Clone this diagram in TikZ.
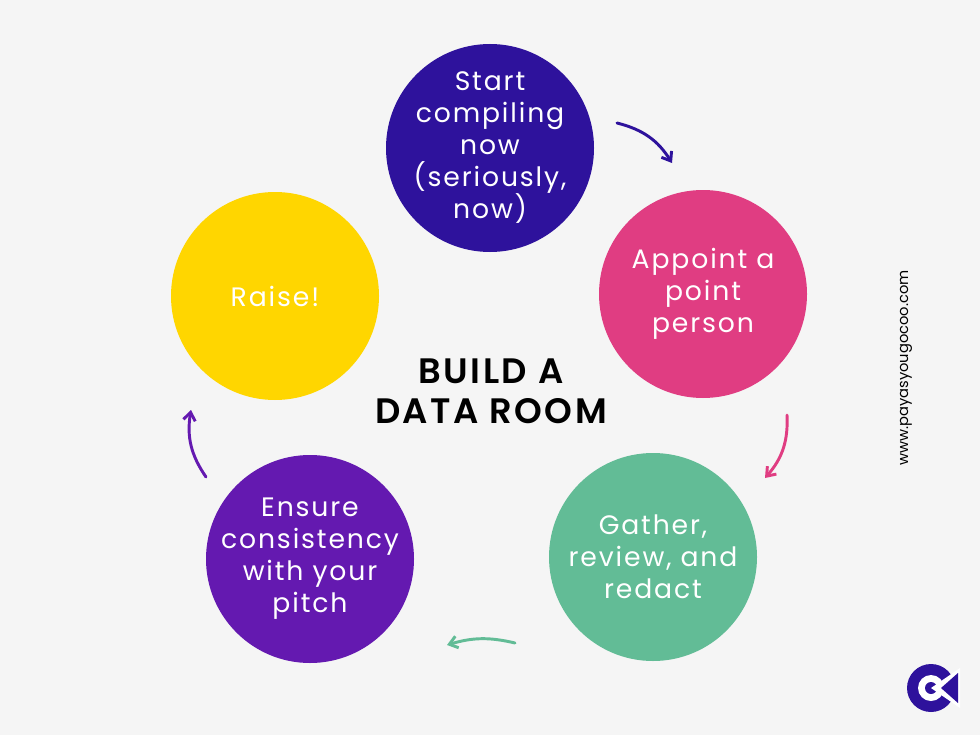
\documentclass[tikz,border=0pt]{standalone}
\usepackage{fontspec}
\setmainfont{Poppins}
\newfontfamily\spaced[LetterSpace=7]{Poppins}
\newfontfamily\spacedb[LetterSpace=7]{Poppins SemiBold}
\usetikzlibrary{arrows.meta}
\definecolor{bg}{HTML}{F5F5F5}
\definecolor{indig}{HTML}{2E129C}
\definecolor{pinkc}{HTML}{E03D82}
\definecolor{greenc}{HTML}{62BC96}
\definecolor{purp}{HTML}{6419B0}
\definecolor{yell}{HTML}{FFD600}
\begin{document}
\begin{tikzpicture}[x=0.75pt,y=-0.75pt,
  step circle/.style={circle,minimum size=156pt,inner sep=-20pt,text=white,align=center,font=\spaced\fontsize{20}{24}\selectfont},
  arr/.style={line width=2.2pt,line cap=round,-{Straight Barb[length=6pt,width=9pt,line width=2.2pt]}}]
\fill[bg] (0,0) rectangle (980,735);
\useasboundingbox (0,0) rectangle (980,735);
\node[step circle,fill=indig] (a) at (490,148) {Start\\compiling\\now\\(seriously,\\now)};
\node[step circle,fill=pinkc] (b) at (703,294) {Appoint a\\point\\person};
\node[step circle,fill=greenc] (c) at (653,557) {Gather,\\review, and\\redact};
\node[step circle,fill=purp] (d) at (310,559) {Ensure\\consistency\\with your\\pitch};
\node[step circle,fill=yell] (e) at (275,296) {Raise!};
\node[align=center,font=\spacedb\fontsize{26.5}{30}\selectfont] (t) at (491,391) {BUILD A\\DATA ROOM};
\node[rotate=90,font=\fontsize{11}{13}\selectfont] (w) at (906,368) {www.payasyougocoo.com};
\coordinate (a1) at (617,123); \coordinate (a2) at (672,163);
\coordinate (b1) at (787,415); \coordinate (b2) at (765,478);
\coordinate (c1) at (515,643); \coordinate (c2) at (447,645);
\coordinate (d1) at (206,477); \coordinate (d2) at (191,410);
\draw[arr,indig] (a1) to[bend left=22] (a2);
\draw[arr,pinkc] (b1) to[bend left=22] (b2);
\draw[arr,greenc] (c1) to[bend right=15] (c2);
\draw[arr,purp] (d1) to[bend left=22] (d2);
% logo
\fill[indig] (931,688) circle (24);
\fill[white] (931,688) circle (13);
\fill[indig] (931,688) circle (6);
\fill[white] (931,688) -- (960,668) -- (960,708) -- cycle;
\fill[indig] (941,688) -- (958,673) -- (958,703) -- cycle;
\end{tikzpicture}
\end{document}
